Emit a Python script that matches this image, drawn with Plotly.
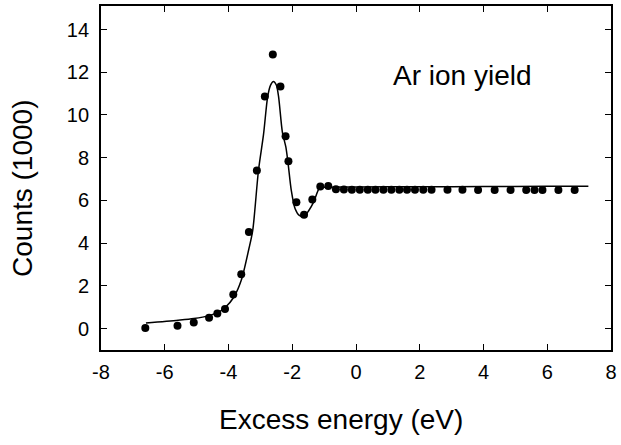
import plotly.graph_objects as go

# measured data points (excess energy in eV, counts in 1000)
energy = [-6.61, -5.60, -5.09, -4.61, -4.35, -4.11, -3.85, -3.60, -3.36, -3.11,
          -2.86, -2.61, -2.37, -2.21, -2.12, -1.87, -1.63, -1.37, -1.12, -0.87,
          -0.63, -0.38, -0.13, 0.12, 0.37, 0.61, 0.86, 1.11, 1.36, 1.60,
          1.85, 2.11, 2.37, 2.87, 3.34, 3.83, 4.35, 4.85, 5.34, 5.60,
          5.85, 6.35, 6.86]
counts = [0.03, 0.14, 0.29, 0.51, 0.71, 0.92, 1.60, 2.54, 4.52, 7.40,
          10.87, 12.83, 11.33, 9.00, 7.83, 5.91, 5.33, 6.04, 6.65, 6.67,
          6.52, 6.51, 6.50, 6.50, 6.50, 6.50, 6.50, 6.50, 6.50, 6.50,
          6.50, 6.50, 6.50, 6.50, 6.50, 6.49, 6.49, 6.49, 6.49, 6.49,
          6.49, 6.49, 6.49]

# fitted curve
fit_energy = [-6.59, -5.58, -5.09, -4.61, -4.35, -4.11, -3.83, -3.60, -3.36, -3.24,
              -3.06, -2.90, -2.77, -2.68, -2.59, -2.50, -2.43, -2.31, -2.20, -2.13,
              -2.03, -1.91, -1.78, -1.63, -1.48, -1.33, -1.14, -1.00, 0.0, 2.0,
              4.0, 6.0, 7.29]
fit_counts = [0.26, 0.39, 0.47, 0.61, 0.75, 0.98, 1.48, 2.26, 3.74, 4.60,
              7.40, 9.10, 10.87, 11.40, 11.57, 11.40, 10.87, 9.20, 8.49, 7.72,
              6.47, 5.61, 5.30, 5.25, 5.53, 5.92, 6.59, 6.62, 6.63, 6.64,
              6.65, 6.66, 6.66]

x_ticks = [-8, -6, -4, -2, 0, 2, 4, 6, 8]
y_ticks = [0, 2, 4, 6, 8, 10, 12, 14]

FONT = "Liberation Sans, Arial, sans-serif"

fig = go.Figure()
fig.add_trace(go.Scatter(x=fit_energy, y=fit_counts, mode="lines",
                         line=dict(color="black", width=1.5, shape="spline", smoothing=0.8),
                         showlegend=False, hoverinfo="skip"))
fig.add_trace(go.Scatter(x=energy, y=counts, mode="markers",
                         marker=dict(color="black", size=8),
                         showlegend=False))

axis_common = dict(showline=True, linecolor="black", linewidth=1.8, mirror="ticks",
                   ticks="inside", ticklen=6, tickwidth=1.2, tickcolor="black",
                   showgrid=False, zeroline=False,
                   tickfont=dict(family=FONT, size=20, color="black"))

fig.update_xaxes(range=[-8, 8], tickvals=x_ticks, ticktext=[str(v) for v in x_ticks],
                 ticklabelstandoff=3, **axis_common)
fig.update_yaxes(range=[-1, 15.1], tickvals=y_ticks, ticktext=[str(v) for v in y_ticks],
                 ticklabelstandoff=6, **axis_common)

fig.add_annotation(x=3.33, y=11.83, xref="x", yref="y", text="Ar ion yield",
                   showarrow=False, xanchor="center", yanchor="middle",
                   font=dict(family=FONT, size=28, color="black"))
fig.add_annotation(x=0.471, y=-0.203, xref="paper", yref="paper",
                   text="Excess energy (eV)", showarrow=False,
                   xanchor="center", yanchor="middle",
                   font=dict(family=FONT, size=28, color="black"))
fig.add_annotation(x=-0.153, y=0.471, xref="paper", yref="paper",
                   text="Counts (1000)", textangle=-90, showarrow=False,
                   xanchor="center", yanchor="middle",
                   font=dict(family=FONT, size=28, color="black"))

fig.update_layout(width=621, height=445, margin=dict(l=101, r=4, t=5, b=95),
                  paper_bgcolor="white", plot_bgcolor="white",
                  font=dict(family=FONT, color="black"))

fig.write_html("out.html")
